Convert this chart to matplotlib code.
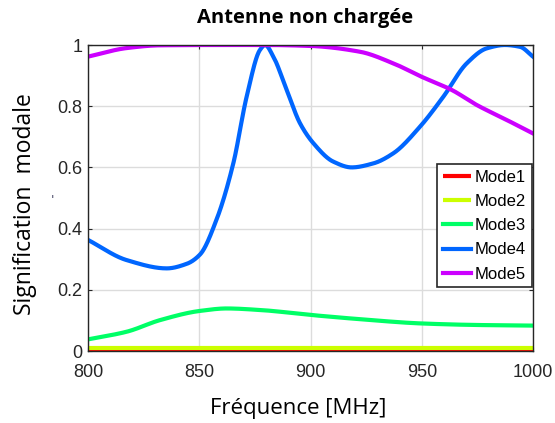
import numpy as np
import matplotlib
matplotlib.use('Agg')
import matplotlib.pyplot as plt

# ---- data ----
f_mode4 = [800, 817.4, 835.4, 844.4, 850.3, 857.8, 865.3, 871.3, 877.3, 879.6, 883.3, 889.3, 895.3,
           901.3, 910.2, 918.5, 928.2, 937.2, 949.2, 959.7, 970.2, 979.2, 987.4, 994.2, 1000]
v_mode4 = [0.363, 0.297, 0.27, 0.285, 0.315, 0.43, 0.613, 0.831, 0.984, 1.0, 0.962, 0.853, 0.744,
           0.679, 0.619, 0.600, 0.613, 0.646, 0.733, 0.831, 0.940, 0.989, 1.0, 0.994, 0.962]

f_mode5 = [800, 817.4, 832.4, 860, 880, 899.8, 922.2, 937.2, 950, 963.5, 974.7, 988.2, 1000]
v_mode5 = [0.962, 0.99, 0.999, 1.0, 1.0, 0.997, 0.978, 0.94, 0.896, 0.853, 0.804, 0.755, 0.711]

f_mode3 = [800, 817.4, 832.4, 850.3, 862.3, 877.3, 899.8, 922.2, 949.9, 974.7, 1000]
v_mode3 = [0.038, 0.063, 0.101, 0.131, 0.139, 0.134, 0.118, 0.104, 0.09, 0.085, 0.083]

f_mode12 = [800, 1000]
v_mode1 = [0.0, 0.0]
v_mode2 = [0.01, 0.01]

labels = ['Mode1', 'Mode2', 'Mode3', 'Mode4', 'Mode5']
colors = ['#ff0000', '#ccff00', '#00ff66', '#0066ff', '#cc00ff']


def pchip(fx, fy):
    # shape preserving cubic through the read points (no overshoot)
    x = np.asarray(fx, float)
    y = np.asarray(fy, float)
    h = np.diff(x)
    d = np.diff(y) / h
    m = np.zeros_like(y)
    for k in range(1, len(x) - 1):
        if d[k - 1] * d[k] > 0:
            w1 = 2 * h[k] + h[k - 1]
            w2 = h[k] + 2 * h[k - 1]
            m[k] = (w1 + w2) / (w1 / d[k - 1] + w2 / d[k])
    m[0] = d[0]
    m[-1] = d[-1]
    xs, ys = [], []
    for i in range(len(x) - 1):
        t = np.linspace(0, 1, 40, endpoint=False)
        h00 = 2*t**3 - 3*t**2 + 1
        h10 = t**3 - 2*t**2 + t
        h01 = -2*t**3 + 3*t**2
        h11 = t**3 - t**2
        xs.append(x[i] + t*h[i])
        ys.append(h00*y[i] + h10*h[i]*m[i] + h01*y[i+1] + h11*h[i]*m[i+1])
    xs.append([x[-1]])
    ys.append([y[-1]])
    return np.concatenate(xs), np.concatenate(ys)


fig = plt.figure(figsize=(5.55, 4.23), dpi=100)
ax = fig.add_axes([88/555, 1 - 351/423, 445/555, 306/423])

lw = 3.0
ax.plot(f_mode12, v_mode1, color=colors[0], lw=lw, label=labels[0], solid_capstyle='butt')
ax.plot(f_mode12, v_mode2, color=colors[1], lw=lw, label=labels[1], solid_capstyle='butt')
x3, y3 = pchip(f_mode3, v_mode3)
ax.plot(x3, y3, color=colors[2], lw=lw, label=labels[2])
x4, y4 = pchip(f_mode4, v_mode4)
ax.plot(x4, y4, color=colors[3], lw=lw, label=labels[3])
x5, y5 = pchip(f_mode5, v_mode5)
ax.plot(x5, y5, color=colors[4], lw=lw, label=labels[4])

ax.set_xlim(800, 1000)
ax.set_ylim(0, 1)
ax.set_xticks([800, 850, 900, 950, 1000])
ax.set_yticks([0, 0.2, 0.4, 0.6, 0.8, 1])
ax.set_yticklabels(['0', '0.2', '0.4', '0.6', '0.8', '1'])
ax.grid(True, color='#dcdcdc', lw=1.0)
ax.set_axisbelow(True)
for s in ax.spines.values():
    s.set_color('#262626')
    s.set_linewidth(1.0)
ax.tick_params(direction='in', length=3, colors='#262626', labelsize=13,
               top=True, right=True)
ax.tick_params(axis='x', pad=9)
ax.tick_params(axis='y', pad=4)
for lab in ax.get_xticklabels() + ax.get_yticklabels():
    lab.set_family('Liberation Sans')

leg = ax.legend(loc='lower right', bbox_to_anchor=(0.997, 0.208),
                prop={'family': 'Liberation Sans', 'size': 12},
                frameon=True, fancybox=False, handlelength=1.7, handletextpad=0.2,
                borderpad=0.35, labelspacing=0.55, borderaxespad=0)
leg.get_frame().set_edgecolor('#262626')
leg.get_frame().set_linewidth(1.2)
leg.get_frame().set_alpha(1)

fig.text(0.55, 0.957, 'Antenne non chargée', ha='center', va='center',
         fontsize=14.5, fontweight='bold', family='Open Sans')
fig.text(0.045, 0.518, 'Signification  modale', ha='center', va='center',
         rotation=90, fontsize=16.5, family='Open Sans')
fig.text(0.537, 0.035, 'Fréquence [MHz]', ha='center', va='center',
         fontsize=16, family='Open Sans')
fig.text(52/555, 1 - 200/423, "'", ha='center', va='center', fontsize=9, color='#404060')

fig.savefig('out.png', dpi=100)
